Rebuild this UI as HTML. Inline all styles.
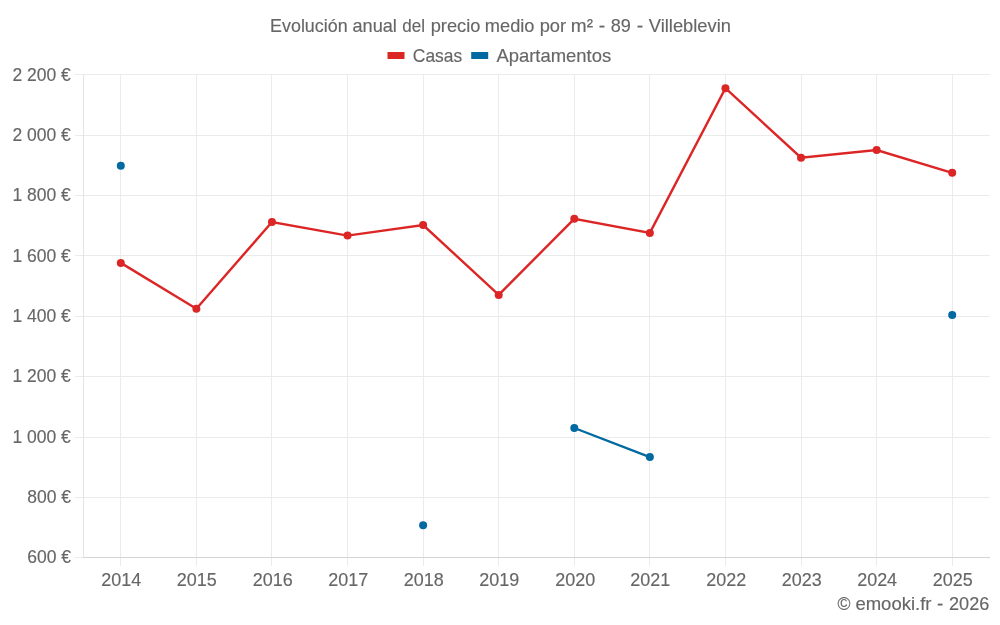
<!DOCTYPE html><html><head><meta charset="utf-8"><title>Evolución anual del precio medio por m² - 89 - Villeblevin</title><style>html,body{margin:0;padding:0;background:#fff;width:1000px;height:625px;overflow:hidden}svg{display:block}text{font-family:'Liberation Sans', Arial, sans-serif;font-size:19px;fill:#666666;stroke:#666;stroke-width:0.15px}</style></head><body><svg width="1000" height="625" viewBox="0 0 1000 625"><rect width="1000" height="625" fill="#fff"/><path d="M75 74.5H990M75 135.5H990M75 195.5H990M75 255.5H990M75 316.5H990M75 376.5H990M75 437.5H990M75 497.5H990M75 557.5H83M120.5 74.9V566M196.5 74.9V566M271.5 74.9V566M347.5 74.9V566M423.5 74.9V566M498.5 74.9V566M574.5 74.9V566M649.5 74.9V566M725.5 74.9V566M801.5 74.9V566M876.5 74.9V566M952.5 74.9V566" stroke="#ebebeb" stroke-width="1" fill="none"/><path d="M83.5 74.9V558" stroke="#e4e4e4" stroke-width="1"/><path d="M83 557.5H990" stroke="#d4d4d4" stroke-width="1"/><polyline points="120.79,262.90 196.37,308.70 271.96,222.00 347.54,235.60 423.12,225.00 498.70,294.90 574.29,218.80 649.87,232.90 725.45,88.20 801.04,157.70 876.62,150.00 952.20,172.80" fill="none" stroke="#dc2626" stroke-width="2.4" stroke-linejoin="miter"/><polyline points="574.29,428.00 649.87,457.10" fill="none" stroke="#0369a1" stroke-width="2.4"/><circle cx="120.79" cy="262.90" r="4.0" fill="#dc2626"/><circle cx="196.37" cy="308.70" r="4.0" fill="#dc2626"/><circle cx="271.96" cy="222.00" r="4.0" fill="#dc2626"/><circle cx="347.54" cy="235.60" r="4.0" fill="#dc2626"/><circle cx="423.12" cy="225.00" r="4.0" fill="#dc2626"/><circle cx="498.70" cy="294.90" r="4.0" fill="#dc2626"/><circle cx="574.29" cy="218.80" r="4.0" fill="#dc2626"/><circle cx="649.87" cy="232.90" r="4.0" fill="#dc2626"/><circle cx="725.45" cy="88.20" r="4.0" fill="#dc2626"/><circle cx="801.04" cy="157.70" r="4.0" fill="#dc2626"/><circle cx="876.62" cy="150.00" r="4.0" fill="#dc2626"/><circle cx="952.20" cy="172.80" r="4.0" fill="#dc2626"/><circle cx="120.79" cy="165.80" r="4.0" fill="#0369a1"/><circle cx="423.12" cy="525.30" r="4.0" fill="#0369a1"/><circle cx="574.29" cy="428.00" r="4.0" fill="#0369a1"/><circle cx="649.87" cy="457.10" r="4.0" fill="#0369a1"/><circle cx="952.20" cy="315.10" r="4.0" fill="#0369a1"/><text y="31.80"><tspan x="270.09" textLength="77.51" lengthAdjust="spacingAndGlyphs">Evolución</tspan> <tspan x="352.43" textLength="44.47" lengthAdjust="spacingAndGlyphs">anual</tspan> <tspan x="402.23" textLength="22.74" lengthAdjust="spacingAndGlyphs">del</tspan> <tspan x="430.66" textLength="49.70" lengthAdjust="spacingAndGlyphs">precio</tspan> <tspan x="484.84" textLength="49.69" lengthAdjust="spacingAndGlyphs">medio</tspan> <tspan x="539.64" textLength="26.43" lengthAdjust="spacingAndGlyphs">por</tspan> <tspan x="570.81" textLength="22.23" lengthAdjust="spacingAndGlyphs">m²</tspan> <tspan x="598.79" textLength="6.42" lengthAdjust="spacingAndGlyphs">-</tspan> <tspan x="610.81" textLength="20.12" lengthAdjust="spacingAndGlyphs">89</tspan> <tspan x="636.88" textLength="6.45" lengthAdjust="spacingAndGlyphs">-</tspan> <tspan x="648.81" textLength="82.16" lengthAdjust="spacingAndGlyphs">Villeblevin</tspan></text><rect x="387.5" y="52" width="17" height="7" fill="#dc2626"/><text x="412.86" y="61.60" textLength="49.30" lengthAdjust="spacingAndGlyphs">Casas</text><rect x="471.2" y="52" width="17" height="7" fill="#0369a1"/><text x="496.40" y="61.60" textLength="114.80" lengthAdjust="spacingAndGlyphs">Apartamentos</text><text x="12.48" y="80.50" textLength="58.40" lengthAdjust="spacingAndGlyphs">2 200 €</text><text x="12.48" y="140.86" textLength="58.40" lengthAdjust="spacingAndGlyphs">2 000 €</text><text x="12.48" y="201.22" textLength="58.40" lengthAdjust="spacingAndGlyphs">1 800 €</text><text x="12.48" y="261.58" textLength="58.40" lengthAdjust="spacingAndGlyphs">1 600 €</text><text x="12.48" y="321.94" textLength="58.40" lengthAdjust="spacingAndGlyphs">1 400 €</text><text x="12.48" y="382.30" textLength="58.40" lengthAdjust="spacingAndGlyphs">1 200 €</text><text x="12.48" y="442.66" textLength="58.40" lengthAdjust="spacingAndGlyphs">1 000 €</text><text x="27.21" y="503.02" textLength="43.79" lengthAdjust="spacingAndGlyphs">800 €</text><text x="27.21" y="563.38" textLength="43.79" lengthAdjust="spacingAndGlyphs">600 €</text><text x="101.23" y="585.80" textLength="39.96" lengthAdjust="spacingAndGlyphs">2014</text><text x="176.70" y="585.80" textLength="39.96" lengthAdjust="spacingAndGlyphs">2015</text><text x="252.72" y="585.80" textLength="39.96" lengthAdjust="spacingAndGlyphs">2016</text><text x="328.18" y="585.80" textLength="39.96" lengthAdjust="spacingAndGlyphs">2017</text><text x="403.71" y="585.80" textLength="39.96" lengthAdjust="spacingAndGlyphs">2018</text><text x="479.20" y="585.80" textLength="39.96" lengthAdjust="spacingAndGlyphs">2019</text><text x="555.19" y="585.80" textLength="39.96" lengthAdjust="spacingAndGlyphs">2020</text><text x="630.19" y="585.80" textLength="39.96" lengthAdjust="spacingAndGlyphs">2021</text><text x="706.18" y="585.80" textLength="39.96" lengthAdjust="spacingAndGlyphs">2022</text><text x="781.70" y="585.80" textLength="39.96" lengthAdjust="spacingAndGlyphs">2023</text><text x="857.17" y="585.80" textLength="39.96" lengthAdjust="spacingAndGlyphs">2024</text><text x="932.69" y="585.80" textLength="39.96" lengthAdjust="spacingAndGlyphs">2025</text><text y="610.20"><tspan x="837.62" textLength="12.97" lengthAdjust="spacingAndGlyphs">©</tspan> <tspan x="855.41" textLength="76.12" lengthAdjust="spacingAndGlyphs">emooki.fr</tspan> <tspan x="937.00" textLength="6.33" lengthAdjust="spacingAndGlyphs">-</tspan> <tspan x="949.06" textLength="40.24" lengthAdjust="spacingAndGlyphs">2026</tspan></text></svg></body></html>
